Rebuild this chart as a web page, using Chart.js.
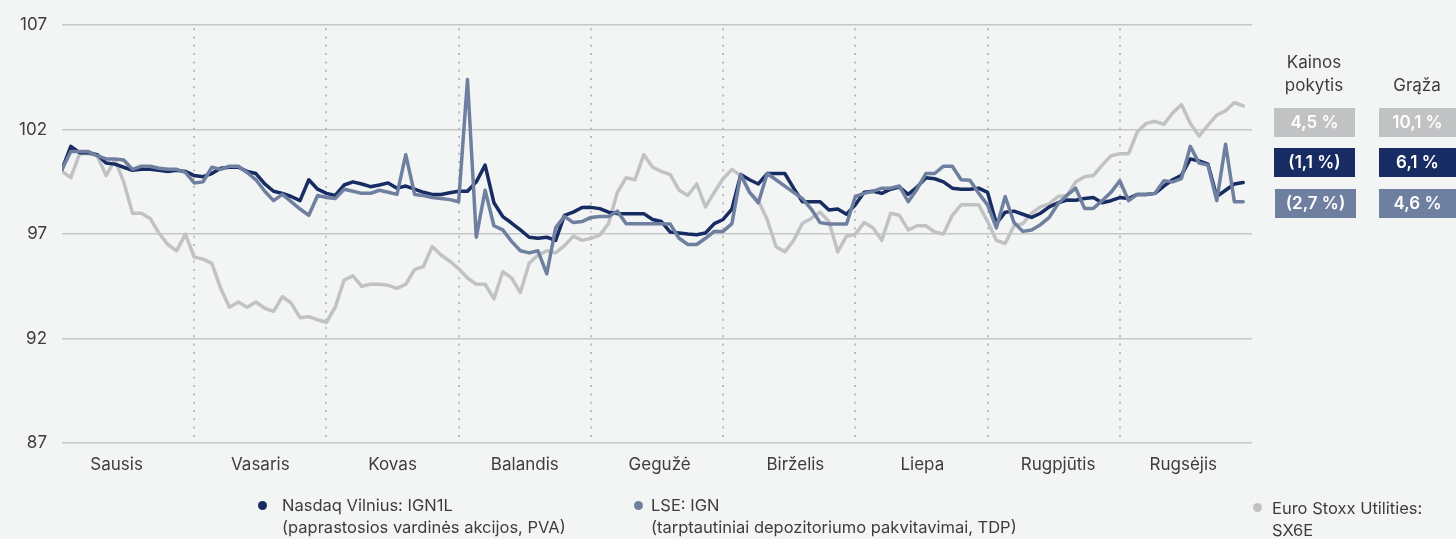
<!DOCTYPE html>
<html lang="lt">
<head>
<meta charset="utf-8">
<title>IGN kainos pokytis</title>
<script src="https://cdn.jsdelivr.net/npm/chart.js@4.4.1/dist/chart.umd.min.js"></script>
<style>
  html, body {
    margin: 0;
    padding: 0;
    background: #f3f4f4;
    font-family: "Inter", "Roboto", sans-serif;
    color: #3d3d3d;
  }
  .wrap {
    position: absolute;
    left: 0;
    top: 0;
    width: 1456px;
    height: 539px;
  }
  .txt {
    position: absolute;
    font-size: 16.5px;
    line-height: 22px;
    white-space: nowrap;
  }
  .head {
    text-align: center;
    width: 100px;
    line-height: 23px;
    font-size: 17px;
  }
  .box {
    position: absolute;
    height: 29px;
    line-height: 29px;
    color: #fff;
    font-size: 17px;
    font-weight: 600;
    text-align: center;
  }
  .dot {
    position: absolute;
    width: 9px;
    height: 9px;
    border-radius: 50%;
  }
</style>
</head>
<body>
<div class="wrap">
  <canvas id="indexChart"></canvas>

  <div class="txt head" style="left:1264px; top:51px;">Kainos<br>pokytis</div>
  <div class="txt head" style="left:1367px; top:74px;">Grąža</div>

  <div class="box" style="left:1274px; top:108px; width:81px; background:#c1c2c4;">4,5 %</div>
  <div class="box" style="left:1379px; top:108px; width:77px; background:#c1c2c4;">10,1 %</div>
  <div class="box" style="left:1274px; top:148px; width:81px; background:#172c62;">(1,1 %)</div>
  <div class="box" style="left:1379px; top:148px; width:77px; background:#172c62;">6,1 %</div>
  <div class="box" style="left:1275px; top:189px; width:81px; background:#6f7fa0;">(2,7 %)</div>
  <div class="box" style="left:1379px; top:189px; width:77px; background:#6f7fa0;">4,6 %</div>

  <div class="dot" style="left:258px; top:501px; background:#172c62;"></div>
  <div class="txt" style="left:282px; top:494px;">Nasdaq Vilnius: IGN1L<br>(paprastosios vardinės akcijos, PVA)</div>
  <div class="dot" style="left:634px; top:501px; background:#6f7fa0;"></div>
  <div class="txt" style="left:651px; top:494px;">LSE: IGN<br>(tarptautiniai depozitoriumo pakvitavimai, TDP)</div>
  <div class="dot" style="left:1253px; top:503px; background:#c1c2c4;"></div>
  <div class="txt" style="left:1272px; top:497px;">Euro Stoxx Utilities:<br>SX6E</div>
</div>

<script>
const months = ["Sausis", "Vasaris", "Kovas", "Balandis", "Gegužė", "Birželis", "Liepa", "Rugpjūtis", "Rugsėjis"];
// day index where month labels sit and where each month ends
const monthLabelPos = [6.2, 22.5, 37.5, 52.5, 67.8, 83.2, 97.6, 113, 127.2];
const monthBounds = [15, 30, 45, 60, 75, 90, 105, 120];
const yTicks = [87, 92, 97, 102, 107];

const nasdaq = [
  100.1, 101.2, 100.9, 100.9, 100.8, 100.4, 100.35, 100.2, 100.05, 100.1,
  100.1, 100.05, 100.0, 100.05, 100.0, 99.8, 99.75, 99.9, 100.15, 100.2,
  100.2, 100.0, 99.9, 99.4, 99.05, 98.95, 98.8, 98.6, 99.6, 99.15,
  98.95, 98.85, 99.35, 99.5, 99.4, 99.27, 99.35, 99.45, 99.2, 99.3,
  99.15, 99.0, 98.9, 98.9, 98.98, 99.05, 99.05, 99.5, 100.3, 98.5,
  97.84, 97.53, 97.2, 96.85, 96.8, 96.85, 96.7, 97.9, 98.05, 98.27,
  98.28, 98.22, 98.05, 97.98, 97.98, 97.98, 97.98, 97.7, 97.6, 97.1,
  97.05, 97.0, 96.97, 97.05, 97.5, 97.7, 98.2, 99.85, 99.6, 99.4,
  99.9, 99.9, 99.9, 99.2, 98.55, 98.55, 98.55, 98.15, 98.2, 97.95,
  98.4, 99.0, 99.05, 98.95, 99.15, 99.25, 98.9, 99.25, 99.7, 99.65,
  99.5, 99.2, 99.15, 99.15, 99.2, 99.0, 97.5, 98.05, 98.1, 97.95,
  97.8, 98.0, 98.3, 98.5, 98.63, 98.62, 98.7, 98.75, 98.5, 98.6,
  98.75, 98.7, 98.9, 98.9, 98.95, 99.3, 99.6, 99.82, 100.6, 100.5,
  100.35, 98.8, 99.1, 99.4, 99.47
];

const lse = [
  100.1, 100.95, 100.95, 100.95, 100.75, 100.6, 100.6, 100.55, 100.1, 100.25,
  100.25, 100.15, 100.1, 100.1, 99.95, 99.45, 99.5, 100.2, 100.1, 100.25,
  100.25, 99.95, 99.6, 99.05, 98.6, 98.9, 98.55, 98.2, 97.9, 98.85,
  98.75, 98.7, 99.15, 99.05, 98.95, 98.95, 99.1, 99.0, 98.9, 100.8,
  98.9, 98.85, 98.75, 98.7, 98.65, 98.55, 104.4, 96.85, 99.1, 97.4,
  97.2, 96.65, 96.2, 96.1, 96.2, 95.1, 97.3, 97.85, 97.55, 97.6,
  97.8, 97.84, 97.84, 98.1, 97.5, 97.5, 97.5, 97.5, 97.5, 97.48,
  96.8, 96.5, 96.5, 96.8, 97.13, 97.13, 97.5, 99.85, 99.0, 98.5,
  99.9, 99.6, 99.3, 99.0, 98.7, 98.2, 97.55, 97.48, 97.48, 97.48,
  98.8, 98.95, 99.05, 99.2, 99.2, 99.3, 98.55, 99.15, 99.9, 99.9,
  100.25, 100.25, 99.6, 99.58, 98.95, 98.4, 97.3, 98.8, 97.55, 97.13,
  97.2, 97.45, 97.8, 98.45, 98.85, 99.2, 98.23, 98.23, 98.6, 99.0,
  99.55, 98.6, 98.9, 98.9, 98.95, 99.55, 99.5, 99.66, 101.2, 100.4,
  100.3, 98.6, 101.3, 98.55, 98.55
];

const stoxx = [
  100.0, 99.7, 100.85, 100.85, 100.75, 99.8, 100.55, 99.5, 98.0, 98.0,
  97.75, 97.05, 96.5, 96.2, 97.0, 95.9, 95.8, 95.6, 94.4, 93.5,
  93.75, 93.5, 93.75, 93.45, 93.3, 94.0, 93.7, 93.0, 93.05, 92.9,
  92.78, 93.5, 94.8, 95.0, 94.5, 94.6, 94.6, 94.55, 94.4, 94.6,
  95.3, 95.45, 96.4, 96.0, 95.7, 95.35, 94.9, 94.6, 94.6, 93.9,
  95.2, 94.9, 94.2, 95.6, 96.0, 96.2, 96.1, 96.45, 96.9, 96.7,
  96.8, 96.95, 97.5, 99.0, 99.7, 99.6, 100.8, 100.2, 100.0, 99.85,
  99.1, 98.85, 99.4, 98.3, 99.0, 99.65, 100.1, 99.8, 99.0, 98.6,
  97.7, 96.4, 96.15, 96.7, 97.52, 97.75, 98.05, 97.6, 96.15, 96.9,
  97.0, 97.55, 97.3, 96.7, 98.0, 97.9, 97.2, 97.4, 97.4, 97.1,
  97.0, 97.9, 98.4, 98.4, 98.4, 97.6, 96.7, 96.55, 97.4, 97.5,
  98.0, 98.3, 98.45, 98.8, 98.85, 99.5, 99.75, 99.8, 100.3, 100.75,
  100.85, 100.85, 101.9, 102.3, 102.4, 102.25, 102.8, 103.2, 102.3, 101.7,
  102.2, 102.7, 102.9, 103.3, 103.14
];

const toPoints = (arr) => arr.map((v, i) => ({ x: i, y: v }));

// dotted month separators
const monthLines = {
  id: "monthLines",
  beforeDatasetsDraw(chart) {
    const { ctx, chartArea, scales } = chart;
    ctx.save();
    ctx.strokeStyle = "#bcbdbe";
    ctx.lineWidth = 2;
    ctx.setLineDash([2, 6.3]);
    monthBounds.forEach((b) => {
      const x = Math.round(scales.x.getPixelForValue(b));
      ctx.beginPath();
      ctx.moveTo(x, chartArea.top + 3);
      ctx.lineTo(x, chartArea.bottom);
      ctx.stroke();
    });
    ctx.restore();
  },
};

document.addEventListener("DOMContentLoaded", function () {
  const ctx = document.getElementById("indexChart").getContext("2d");
  new Chart(ctx, {
    type: "line",
    data: {
      datasets: [
        {
          label: "LSE: IGN",
          data: toPoints(lse),
          borderColor: "#6f7fa0",
          borderWidth: 3.5,
          order: 1,
        },
        {
          label: "Nasdaq Vilnius: IGN1L",
          data: toPoints(nasdaq),
          borderColor: "#172c62",
          borderWidth: 3.5,
          order: 2,
        },
        {
          label: "Euro Stoxx Utilities: SX6E",
          data: toPoints(stoxx),
          borderColor: "#c1c2c4",
          borderWidth: 3.5,
          order: 3,
        },
      ],
    },
    options: {
      responsive: true,
      maintainAspectRatio: false,
      animation: false,
      layout: {
        padding: { top: 22, right: 204, left: 0, bottom: 0 },
      },
      elements: {
        point: { radius: 0 },
        line: { tension: 0, borderJoinStyle: "round", borderCapStyle: "round" },
      },
      plugins: {
        legend: { display: false },
        tooltip: { enabled: false },
      },
      scales: {
        x: {
          type: "linear",
          min: 0,
          max: 135,
          afterFit: (s) => { s.height = 96; },
          afterBuildTicks: (s) => {
            s.ticks = monthLabelPos.map((v) => ({ value: v }));
          },
          grid: { display: false, drawTicks: false },
          border: { display: false },
          ticks: {
            padding: 12,
            color: "#3d3d3d",
            font: { family: "Inter", size: 17 },
            autoSkip: false,
            maxRotation: 0,
            callback: (v, i) => months[i],
          },
        },
        y: {
          min: 87,
          max: 107,
          afterFit: (s) => { s.width = 62; },
          afterBuildTicks: (s) => {
            s.ticks = yTicks.map((v) => ({ value: v }));
          },
          grid: { color: "#c6c7c8", lineWidth: 1.5, drawTicks: false },
          border: { display: false },
          ticks: {
            padding: 15,
            color: "#3d3d3d",
            font: { family: "Inter", size: 17 },
          },
        },
      },
    },
    plugins: [monthLines],
  });
});
</script>
</body>
</html>
